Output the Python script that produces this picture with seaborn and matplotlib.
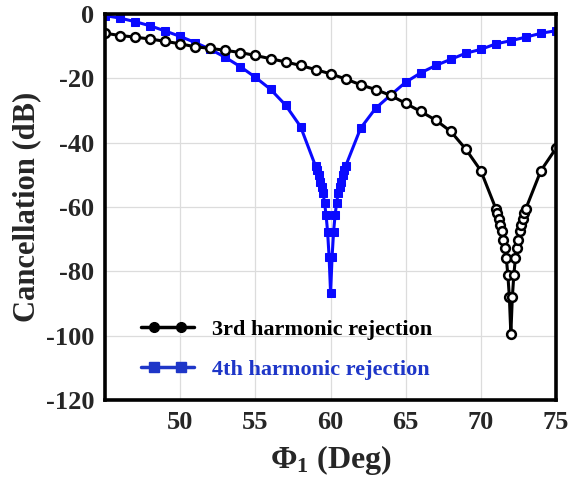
import numpy as np
import pandas as pd
import matplotlib
matplotlib.use("Agg")
import matplotlib.pyplot as plt
import seaborn as sns
from matplotlib.lines import Line2D
from matplotlib.legend_handler import HandlerLine2DCompound

# ======================
# Data
# ======================
phi_3rd = [45, 46, 47, 48, 49, 50, 51, 52, 53, 54, 55, 56, 57, 58, 59, 60,
           61, 62, 63, 64, 65, 66, 67, 68, 69, 70,
           71.0, 71.1, 71.2, 71.3, 71.4, 71.5, 71.6, 71.7, 71.8, 71.9, 72.0,
           72.1, 72.2, 72.3, 72.4, 72.5, 72.6, 72.7, 72.8, 72.9, 73.0,
           74, 75]
rej_3rd = [-6.0, -6.7, -7.2, -7.8, -8.5, -9.3, -10.2, -10.7, -11.3, -12.0,
           -12.9, -13.9, -14.9, -16.0, -17.3, -18.6,
           -20.2, -22.0, -23.5, -25.3, -27.8, -30.3, -33.0, -36.5, -42.0, -48.7,
           -60.5, -62.0, -63.8, -65.6, -67.6, -70.2, -72.8, -76.0, -81.1, -87.9, -99.5,
           -87.9, -81.1, -76.0, -72.8, -70.2, -67.6, -65.6, -63.8, -62.0, -60.5,
           -48.7, -41.8]

phi_4th = [45, 46, 47, 48, 49, 50, 51, 52, 53, 54, 55, 56, 57, 58,
           59.0, 59.1, 59.2, 59.3, 59.4, 59.5, 59.6, 59.7, 59.8, 59.9, 60.0,
           60.1, 60.2, 60.3, 60.4, 60.5, 60.6, 60.7, 60.8, 60.9, 61.0,
           62, 63, 64, 65, 66, 67, 68, 69, 70, 71, 72, 73, 74, 75]
rej_4th = [-0.5, -1.3, -2.4, -3.7, -5.3, -7.0, -8.9, -11.0, -13.5, -16.4,
           -19.7, -23.4, -28.3, -35.0,
           -47.3, -48.5, -50.0, -52.1, -53.7, -55.7, -58.8, -62.5, -67.7, -75.4, -86.8,
           -75.4, -67.7, -62.5, -58.8, -55.7, -53.7, -52.1, -50.0, -48.5, -47.3,
           -35.5, -29.3, -25.2, -21.2, -18.3, -16.0, -14.1, -12.2, -11.0, -9.3,
           -8.3, -7.2, -6.0, -5.2]

labels = ["3rd harmonic rejection", "4th harmonic rejection"]
x_ticks = [50, 55, 60, 65, 70, 75]
y_ticks = [0, -20, -40, -60, -80, -100, -120]

df3 = pd.DataFrame({"phi": phi_3rd, "rej": rej_3rd})
df4 = pd.DataFrame({"phi": phi_4th, "rej": rej_4th})


# legend handle: line spans the whole box, markers sit inside it
class InnerMarkers(HandlerLine2DCompound):
    def get_xdata(self, legend, xdescent, ydescent, width, height, fontsize):
        xdata = np.array([-xdescent, -xdescent + width])
        xm = np.array([-xdescent + 0.24 * width, -xdescent + 0.74 * width])
        return xdata, xm


# ======================
# Style
# ======================
sns.set_style("whitegrid")
plt.rcParams["font.family"] = ["Liberation Serif", "DejaVu Serif"]
plt.rcParams["font.weight"] = "bold"
plt.rcParams["axes.unicode_minus"] = False
plt.rcParams["mathtext.fontset"] = "custom"
plt.rcParams["mathtext.rm"] = "Liberation Serif:bold"
plt.rcParams["mathtext.it"] = "Liberation Serif:bold"
plt.rcParams["mathtext.bf"] = "Liberation Serif:bold"

fig = plt.figure(figsize=(5.69, 4.82), dpi=100)
ax = fig.add_axes([0.185, 0.170, 0.792, 0.801])

sns.lineplot(data=df4, x="phi", y="rej", ax=ax, color="#0a0aff", linewidth=2.2,
             marker="s", markersize=6, markeredgecolor="#0a0aff",
             markerfacecolor="#0a0aff", sort=False, estimator=None)
sns.lineplot(data=df3, x="phi", y="rej", ax=ax, color="black", linewidth=2.2,
             marker="o", markersize=6.3, markeredgecolor="black",
             markerfacecolor="white", markeredgewidth=1.8, sort=False, estimator=None)

ax.set_xlim(45, 75)
ax.set_ylim(-120, 0)
ax.set_xticks(x_ticks)
ax.set_yticks(y_ticks)
ax.grid(True, color="#dcdcdc", linewidth=0.9)
ax.tick_params(axis="both", direction="in", length=4, width=1, color="#888888",
               labelsize=19, pad=8)
for lab in ax.get_xticklabels() + ax.get_yticklabels():
    lab.set_fontweight("bold")

for sp in ax.spines.values():
    sp.set_color("black")
    sp.set_linewidth(2.6)

ax.set_xlabel(r"$\Phi_1$ (Deg)", fontsize=23, fontweight="bold", labelpad=6)
ax.set_ylabel("Cancellation (dB)", fontsize=22, fontweight="bold", labelpad=3)

handles = [
    Line2D([], [], color="black", linewidth=2.5, marker="o", markersize=7,
           markerfacecolor="black"),
    Line2D([], [], color="#1e36c8", linewidth=2.5, marker="s", markersize=6.5,
           markerfacecolor="#1e36c8"),
]
leg = ax.legend(handles, labels, loc="lower left", bbox_to_anchor=(0.035, 0.0),
                frameon=False, handlelength=2.4, handletextpad=0.8,
                labelspacing=0.9,
                handler_map={Line2D: InnerMarkers()},
                prop={"family": "Liberation Serif", "weight": "bold", "size": 16})
leg.get_texts()[0].set_color("black")
leg.get_texts()[1].set_color("#1e36c8")

fig.savefig("out.png", dpi=100)
